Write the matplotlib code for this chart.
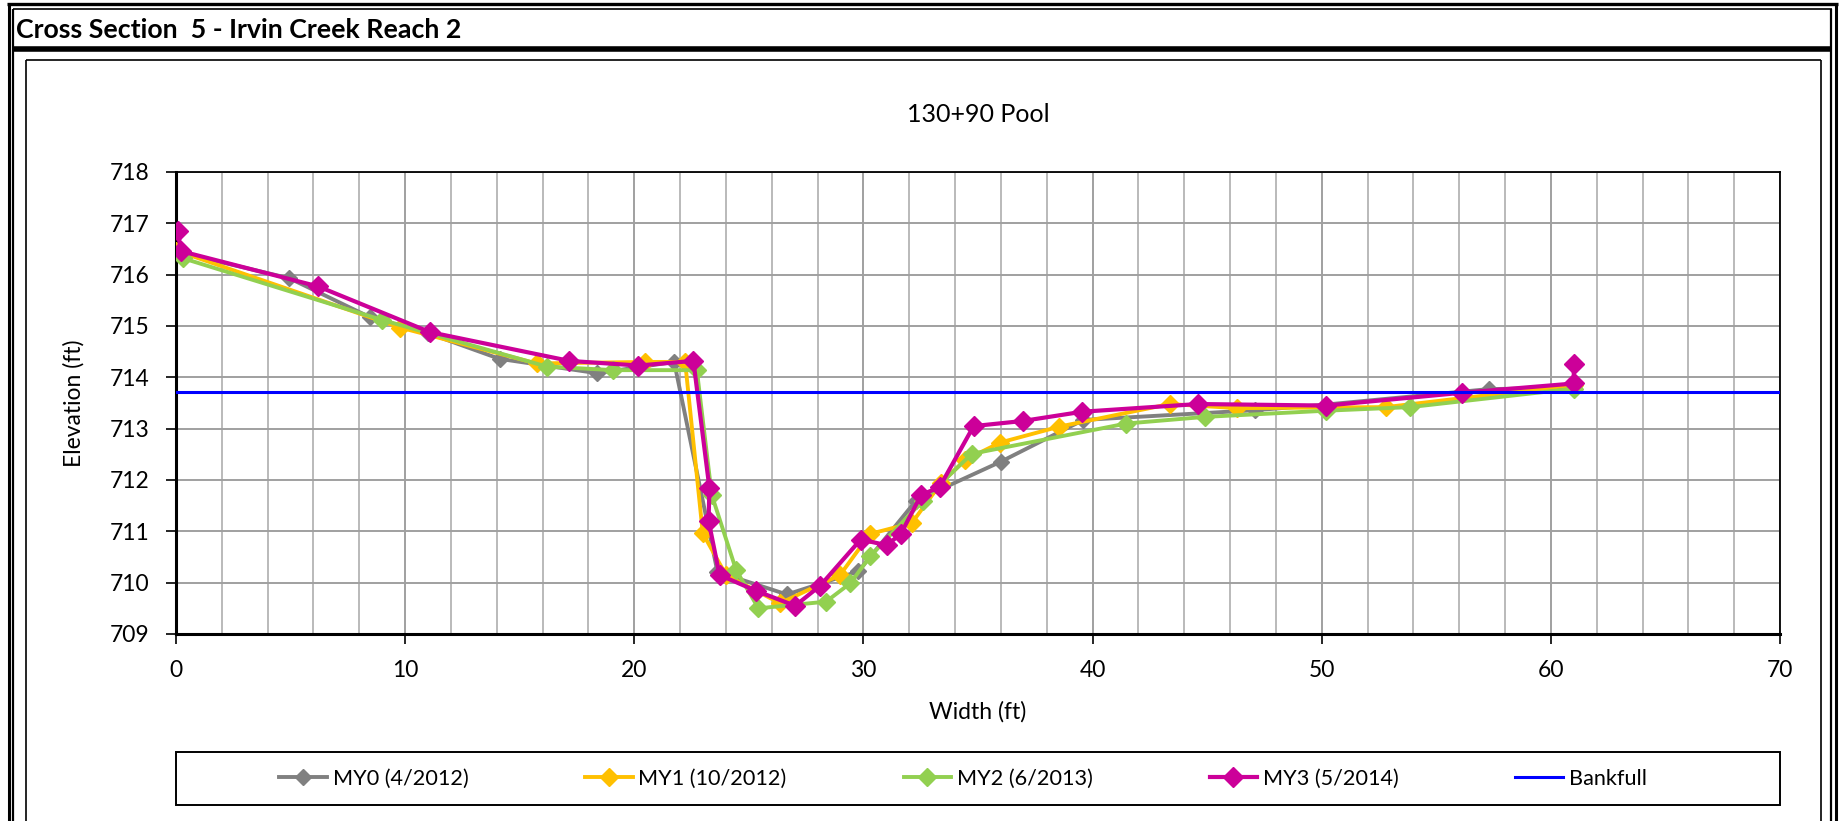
import matplotlib
matplotlib.use("Agg")
import matplotlib.pyplot as plt
from matplotlib.lines import Line2D
from matplotlib.patches import Rectangle
from matplotlib.ticker import MultipleLocator

plt.rcParams['font.family'] = ['Lato', 'DejaVu Sans']

# ---------------- data ----------------
my0_x = [0.0, 4.95, 8.47, 11.0, 14.12, 18.39, 21.74, 23.63, 26.66, 29.78, 32.3, 36.01, 39.6, 47.1, 50.2, 57.28, 61.0]
my0_y = [716.45, 715.93, 715.17, 714.86, 714.36, 714.08, 714.30, 710.21, 709.77, 710.22, 711.6, 712.36, 713.17, 713.36, 713.47, 713.77, 713.80]

my1_x = [0.0, 9.78, 15.74, 20.47, 22.22, 22.99, 24.0, 26.36, 28.98, 30.29, 32.11, 33.4, 34.44, 35.97, 38.55, 43.36, 46.3, 52.8, 61.0]
my1_y = [716.47, 714.97, 714.27, 714.30, 714.30, 710.96, 710.15, 709.60, 710.15, 710.95, 711.16, 711.95, 712.39, 712.73, 713.04, 713.48, 713.40, 713.42, 713.85]

my2_x = [0.3, 8.98, 16.18, 19.09, 22.73, 23.38, 24.44, 25.42, 28.37, 29.43, 30.29, 32.6, 34.73, 41.47, 44.92, 50.2, 53.86, 61.0]
my2_y = [716.32, 715.12, 714.21, 714.14, 714.14, 711.71, 710.25, 709.50, 709.63, 709.99, 710.51, 711.6, 712.51, 713.10, 713.23, 713.35, 713.42, 713.78]

my3_x = [0.1, 0.2, 6.21, 11.09, 17.17, 20.18, 22.58, 23.28, 23.24, 23.72, 25.32, 27.02, 28.11, 29.88, 31.02, 31.63, 32.52, 33.32, 34.81, 36.96, 39.55, 44.6, 50.2, 56.14, 61.0, 61.0]
my3_y = [716.86, 716.46, 715.77, 714.88, 714.32, 714.23, 714.32, 711.84, 711.21, 710.15, 709.84, 709.55, 709.94, 710.84, 710.73, 710.95, 711.71, 711.86, 713.05, 713.15, 713.33, 713.48, 713.45, 713.70, 713.88, 714.26]

bankfull_x = [0, 70]
bankfull_y = [713.72, 713.72]

labels = ["MY0 (4/2012)", "MY1 (10/2012)", "MY2 (6/2013)", "MY3 (5/2014)", "Bankfull"]
colors = ["#808080", "#FFC000", "#92D050", "#CC0099", "#0000FF"]

header = "Cross Section  5 - Irvin Creek Reach 2"
chart_title = "130+90 Pool"

W, H = 1840, 821
fig = plt.figure(figsize=(W / 100, H / 100), dpi=100)


def fx(x):
    return x / W


def fy(y):
    return 1 - y / H


def hline(x0, x1, y, lw, color="black"):
    fig.add_artist(Line2D([fx(x0), fx(x1)], [fy(y), fy(y)], transform=fig.transFigure,
                          color=color, lw=lw, solid_capstyle="butt"))


def vline(x, y0, y1, lw, color="black"):
    fig.add_artist(Line2D([fx(x), fx(x)], [fy(y0), fy(y1)], transform=fig.transFigure,
                          color=color, lw=lw, solid_capstyle="butt"))


# outer double border
vline(8.5, 3, 821, 2.2)
vline(13.5, 9, 821, 1.6)
vline(1836, 3, 821, 2.2)
vline(1831, 9, 821, 1.6)
hline(7, 1838, 4, 2.4)
hline(13, 1832, 9.5, 1.2)
# header bottom thick line
hline(13, 1832, 49, 4.0)
# chart box
vline(26, 60, 821, 1.2)
vline(1821, 60, 821, 1.2)
hline(26, 1821, 60.5, 1.2)

fig.text(fx(16), fy(30), header, fontsize=19.3, fontweight="bold", ha="left", va="center")

# ---------------- axes ----------------
ax = fig.add_axes([fx(176), fy(634), fx(1780) - fx(176), fy(172) - fy(634)])
ax.set_xlim(0, 70)
ax.set_ylim(709, 718)
ax.xaxis.set_major_locator(MultipleLocator(10))
ax.xaxis.set_minor_locator(MultipleLocator(2))
ax.yaxis.set_major_locator(MultipleLocator(1))
ax.grid(which="major", axis="both", color="#a0a0a0", lw=1.4)
ax.grid(which="minor", axis="x", color="#bababa", lw=1.4)
ax.set_axisbelow(True)
for s in ax.spines.values():
    s.set_color("black")
    s.set_linewidth(1.3)
ax.spines["left"].set_linewidth(2.2)
ax.spines["bottom"].set_linewidth(2.2)
ax.tick_params(which="major", direction="out", length=7, width=1.2, labelsize=16.5, pad=12)
ax.tick_params(which="minor", length=0)

series = [(my0_x, my0_y), (my1_x, my1_y), (my2_x, my2_y), (my3_x, my3_y)]
msizes = [8, 9, 9, 10]
lws = [2.8, 2.8, 2.8, 3.0]
handles = []
for (xs, ys), c, lab, ms, lw in zip(series, colors[:4], labels[:4], msizes, lws):
    h, = ax.plot(xs, ys, color=c, lw=lw, marker="D", ms=ms, mec=c, mfc=c, label=lab, zorder=3)
    handles.append(h)
hb, = ax.plot(bankfull_x, bankfull_y, color=colors[4], lw=2.2, label=labels[4], zorder=4)
handles.append(hb)

ax.set_xlabel("Width (ft)", fontsize=16.5, labelpad=14)
ax.set_ylabel("Elevation (ft)", fontsize=16.5, labelpad=18)
fig.text(fx(978), fy(115), chart_title, fontsize=18, ha="center", va="center")

# legend box
fig.add_artist(Rectangle((fx(176), fy(805)), fx(1780) - fx(176), fy(752) - fy(805),
                         transform=fig.transFigure, fill=False, ec="black", lw=1.4))
leg = fig.legend(handles=handles, labels=labels, loc="center", ncol=5,
                 bbox_to_anchor=(fx(963), fy(778.5)), frameon=False, fontsize=15.6,
                 handlelength=2.2, handletextpad=0.25, columnspacing=5.4)

fig.savefig("out.png", dpi=100)
